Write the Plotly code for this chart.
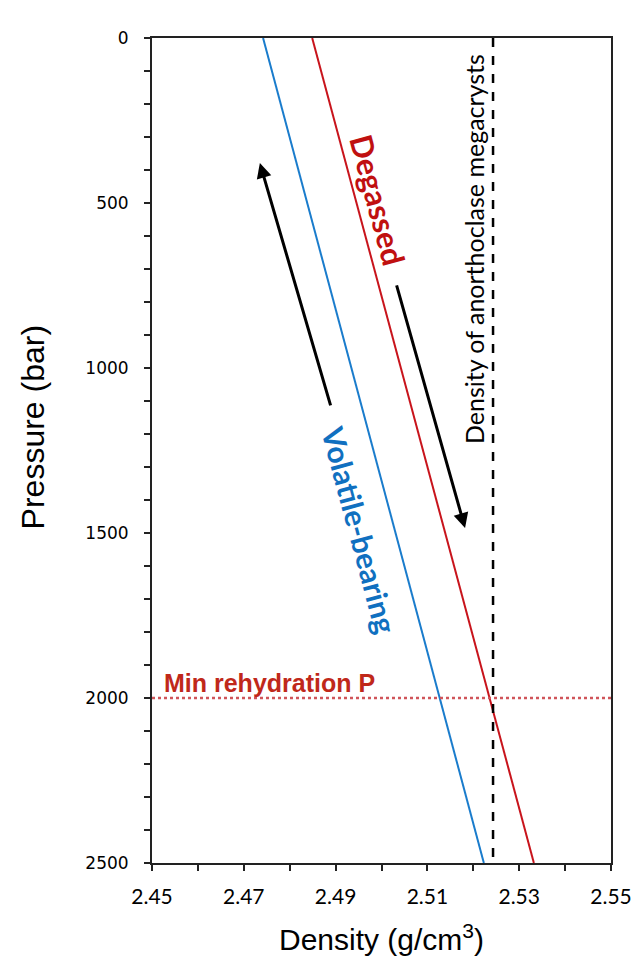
import plotly.graph_objects as go

# ---- data ----
pressure = [0, 2500]                       # bar
degassed_density = [2.4849, 2.5332]        # g/cm3
volatile_density = [2.4742, 2.5223]        # g/cm3
anorthoclase_density = 2.5243
anorthoclase_pressure = [0, 2500]
min_rehydration_p = 2000
x_range = [2.45, 2.55]
x_tickvals = [2.45, 2.47, 2.49, 2.51, 2.53, 2.55]
x_ticktext = ["2.45", "2.47", "2.49", "2.51", "2.53", "2.55"]
y_tickvals = [0, 500, 1000, 1500, 2000, 2500]

RED = "#c8141c"
BLUE = "#1a7ccc"
LABEL_RED = "#c0281a"

fig = go.Figure()

fig.add_trace(go.Scatter(x=volatile_density, y=pressure, mode="lines",
                         line=dict(color=BLUE, width=2), showlegend=False))
fig.add_trace(go.Scatter(x=degassed_density, y=pressure, mode="lines",
                         line=dict(color=RED, width=2), showlegend=False))
fig.add_trace(go.Scatter(x=[anorthoclase_density] * 2, y=anorthoclase_pressure, mode="lines",
                         line=dict(color="black", width=2.5, dash="dash"), showlegend=False))
fig.add_trace(go.Scatter(x=x_range, y=[min_rehydration_p] * 2, mode="lines",
                         line=dict(color="#d0555a", width=2.5, dash="dot"), showlegend=False))

annotations = [
    dict(x=2.4522, y=1955, text="<b>Min rehydration P</b>", showarrow=False,
         xanchor="left", yanchor="middle",
         font=dict(family="Liberation Sans, Arial", size=25, color=LABEL_RED)),
    dict(x=2.4992, y=491, text="<b>Degassed</b>", showarrow=False, textangle=75,
         font=dict(family="Lato, Open Sans", size=31, color="#c01010")),
    dict(x=2.4953, y=1491, text="<b>Volatile-bearing</b>", showarrow=False, textangle=75,
         font=dict(family="Lato, Open Sans", size=30, color="#1070c0")),
    dict(x=2.5202, y=639, text="Density of anorthoclase megacrysts", showarrow=False,
         textangle=-90,
         font=dict(family="Lato, Open Sans", size=25, color="black")),
    # y-axis title
    dict(x=0, xref="paper", y=1180, yref="y", xshift=-119, text="Pressure (bar)",
         showarrow=False, textangle=-90, xanchor="center", yanchor="middle",
         font=dict(family="Liberation Sans Narrow, Arial Narrow, Liberation Sans", size=32, color="black")),
    # arrows
    dict(x=2.4735, y=379, ax=2.4890, ay=1118, xref="x", yref="y", axref="x", ayref="y",
         text="", showarrow=True, arrowhead=2, arrowsize=1, arrowwidth=3, arrowcolor="black"),
    dict(x=2.5182, y=1485, ax=2.5032, ay=745, xref="x", yref="y", axref="x", ayref="y",
         text="", showarrow=True, arrowhead=2, arrowsize=1, arrowwidth=3, arrowcolor="black"),
]

fig.update_layout(
    width=633, height=965,
    margin=dict(l=152, r=22, t=38, b=102),
    paper_bgcolor="white", plot_bgcolor="white",
    annotations=annotations,
    showlegend=False,
)

fig.update_xaxes(
    range=x_range, tickvals=x_tickvals, ticktext=x_ticktext,
    automargin=False, ticklabeloverflow="allow",
    showline=True, linecolor="#222", linewidth=2, mirror=True,
    ticks="outside", ticklen=6, tickwidth=2, tickcolor="#222",
    minor=dict(dtick=0.01, tick0=2.45, ticks="outside", ticklen=6, tickwidth=2, tickcolor="#222"),
    showgrid=False, zeroline=False,
    tickfont=dict(family="Lato, Open Sans", size=21, color="black"),
    ticklabelstandoff=8,
    title=dict(text="Density (g/cm<sup>3</sup>)",
               font=dict(family="Liberation Sans, Arial", size=30, color="black"), standoff=22),
)
fig.update_yaxes(
    range=[2500, 0], tickvals=y_tickvals,
    automargin=False, ticklabeloverflow="allow",
    showline=True, linecolor="#222", linewidth=2, mirror=True,
    ticks="outside", ticklen=6, tickwidth=2, tickcolor="#222",
    minor=dict(dtick=100, tick0=0, ticks="outside", ticklen=6, tickwidth=2, tickcolor="#222"),
    showgrid=False, zeroline=False,
    tickfont=dict(family="DejaVu Sans, Verdana", size=17, color="black"),
    ticklabelstandoff=12,
)

fig.write_html("out.html",
               config={"displayModeBar": False},
               post_script="document.body.style.margin='0';document.body.style.overflow='hidden';")
